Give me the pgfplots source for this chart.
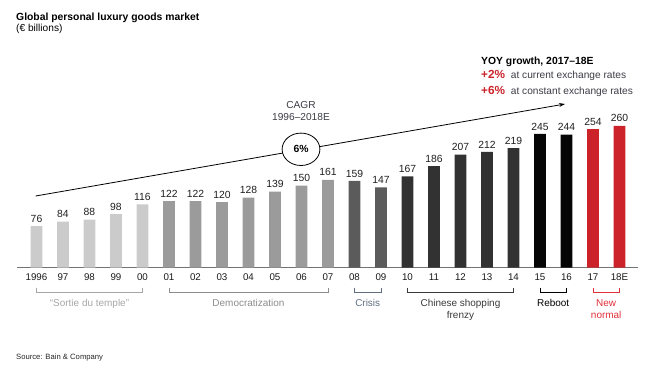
\documentclass[border=0pt]{standalone}
\usepackage{pgfplots}
\pgfplotsset{compat=1.18}
\usepackage{fontspec}
\setmainfont{Liberation Sans}
\usetikzlibrary{arrows.meta}
\definecolor{cA}{HTML}{CBCBCB}
\definecolor{cB}{HTML}{9B9B9B}
\definecolor{cC}{HTML}{5B5B5B}
\definecolor{cD}{HTML}{323232}
\definecolor{cE}{HTML}{050505}
\definecolor{cF}{HTML}{CC2229}
\definecolor{tA}{HTML}{A6A6A6}
\definecolor{tB}{HTML}{8C8C8C}
\definecolor{tC}{HTML}{5F6F80}
\definecolor{tD}{HTML}{3A3A3A}
\definecolor{tE}{HTML}{000000}
\definecolor{tF}{HTML}{E0303A}
\definecolor{txt}{HTML}{3C3C46}
\begin{document}
\begin{tikzpicture}
\path[use as bounding box] (0bp,0bp) rectangle (650bp,374bp);
\begin{axis}[
  at={(17bp,106.5bp)}, anchor=south west,
  scale only axis, width=621bp, height=163.5bp,
  xmin=-0.736, xmax=22.7, ymin=0, ymax=300,
  enlargelimits=false, clip=false,
  axis x line*=bottom, axis y line=none,
  x axis line style={draw=black!55, line width=1.3bp},
  /pgf/number format/assume math mode=true,
  xtick={0,...,22},
  xticklabels={1996,97,98,99,00,01,02,03,04,05,06,07,08,09,10,11,12,13,14,15,16,17,18E},
  major tick length=0pt,
  xticklabel style={font=\fontsize{9.8}{11}\selectfont, text=black!90, inner sep=0pt, anchor=base, yshift=-13.2bp},
  ytick=\empty,
  ybar, bar width=11.8bp,
  nodes near coords,
  nodes near coords style={font=\fontsize{10.4}{12}\selectfont, text=black!88, inner sep=0pt, anchor=south, yshift=3.5bp},
]
\addplot[fill=cA, draw=none, bar shift=0pt] coordinates {(0,76) (1,84) (2,88) (3,98) (4,116)};
\addplot[fill=cB, draw=none, bar shift=0pt] coordinates {(5,122) (6,122) (7,120) (8,128) (9,139) (10,150) (11,161)};
\addplot[fill=cC, draw=none, bar shift=0pt] coordinates {(12,159) (13,147)};
\addplot[fill=cD, draw=none, bar shift=0pt] coordinates {(14,167) (15,186) (16,207) (17,212) (18,219)};
\addplot[fill=cE, draw=none, bar shift=0pt] coordinates {(19,245) (20,244)};
\addplot[fill=cF, draw=none, bar shift=0pt] coordinates {(21,254) (22,260)};
% brackets
\draw[tA, line width=0.7bp] ([yshift=-20bp]axis cs:0,0) -- ([yshift=-24.5bp]axis cs:0,0) -- ([yshift=-24.5bp]axis cs:4,0) -- ([yshift=-20bp]axis cs:4,0);
\draw[tB, line width=0.7bp] ([yshift=-20bp]axis cs:5,0) -- ([yshift=-24.5bp]axis cs:5,0) -- ([yshift=-24.5bp]axis cs:11,0) -- ([yshift=-20bp]axis cs:11,0);
\draw[tC, line width=0.7bp] ([yshift=-20bp]axis cs:12,0) -- ([yshift=-24.5bp]axis cs:12,0) -- ([yshift=-24.5bp]axis cs:13,0) -- ([yshift=-20bp]axis cs:13,0);
\draw[tD, line width=0.7bp] ([yshift=-20bp]axis cs:14,0) -- ([yshift=-24.5bp]axis cs:14,0) -- ([yshift=-24.5bp]axis cs:18,0) -- ([yshift=-20bp]axis cs:18,0);
\draw[tE, line width=0.7bp] ([yshift=-20bp]axis cs:19,0) -- ([yshift=-24.5bp]axis cs:19,0) -- ([yshift=-24.5bp]axis cs:20,0) -- ([yshift=-20bp]axis cs:20,0);
\draw[tF, line width=0.7bp] ([yshift=-20bp]axis cs:21,0) -- ([yshift=-24.5bp]axis cs:21,0) -- ([yshift=-24.5bp]axis cs:22,0) -- ([yshift=-20bp]axis cs:22,0);
% group labels
\node[anchor=base, text=tA, inner sep=0pt, font=\fontsize{10}{12}\selectfont] at ([yshift=-39bp]axis cs:2,0) {“Sortie du temple”};
\node[anchor=base, text=tB, inner sep=0pt, font=\fontsize{10}{12}\selectfont] at ([yshift=-39bp]axis cs:8,0) {Democratization};
\node[anchor=base, text=tC, inner sep=0pt, font=\fontsize{10}{12}\selectfont] at ([yshift=-39bp]axis cs:12.5,0) {Crisis};
\node[anchor=base, text=tD, inner sep=0pt, font=\fontsize{10}{12}\selectfont] at ([yshift=-39bp]axis cs:16,0) {Chinese shopping};
\node[anchor=base, text=tD, inner sep=0pt, font=\fontsize{10}{12}\selectfont] at ([yshift=-51bp]axis cs:16,0) {frenzy};
\node[anchor=base, text=tE, inner sep=0pt, font=\fontsize{10}{12}\selectfont] at ([yshift=-39bp]axis cs:19.5,0) {Reboot};
\node[anchor=base, text=tF, inner sep=0pt, font=\fontsize{10}{12}\selectfont] at ([yshift=-39bp]axis cs:21.5,0) {New};
\node[anchor=base, text=tF, inner sep=0pt, font=\fontsize{10}{12}\selectfont] at ([yshift=-51bp]axis cs:21.5,0) {normal};
\end{axis}
\begin{scope}[x=1bp,y=1bp]
% CAGR arrow and circle
\draw[-{Stealth[length=6bp,width=4bp]}, line width=0.8bp] (35.7,178) -- (565,270);
\draw[fill=white, line width=0.8bp] (301,224.7) ellipse [x radius=18.9, y radius=16.2];
\node[font=\bfseries\fontsize{10.4}{12}\selectfont, inner sep=0pt] at (301,224.7) {6\%};
\node[anchor=base, inner sep=0pt, text=txt, font=\fontsize{10.2}{12}\selectfont] at (301,265.7) {CAGR};
\node[anchor=base, inner sep=0pt, text=txt, font=\fontsize{10.2}{12}\selectfont] at (301,253.3) {1996–2018E};
% titles
\node[anchor=base west, inner sep=0pt, font=\bfseries\fontsize{10.4}{12}\selectfont] at (16,354) {Global personal luxury goods market};
\node[anchor=base west, inner sep=0pt, font=\fontsize{10.2}{12}\selectfont] at (16,343) {(€ billions)};
% YOY box
\node[anchor=base west, inner sep=0pt, font=\bfseries\fontsize{10.4}{12}\selectfont] at (481,310) {YOY growth, 2017–18E};
\node[anchor=base west, inner sep=0pt, text=cF, font=\bfseries\fontsize{11.8}{13}\selectfont] at (481,295.7) {+2\%};
\node[anchor=base west, inner sep=0pt, text=txt, font=\fontsize{10.2}{12}\selectfont] at (510.7,295.7) {at current exchange rates};
\node[anchor=base west, inner sep=0pt, text=cF, font=\bfseries\fontsize{11.8}{13}\selectfont] at (481,280) {+6\%};
\node[anchor=base west, inner sep=0pt, text=txt, font=\fontsize{10.2}{12}\selectfont] at (510.7,280) {at constant exchange rates};
% source
\node[anchor=base west, inner sep=0pt, text=black!85, font=\fontsize{7.7}{9}\selectfont] at (16,14.7) {Source: Bain \& Company};
\end{scope}
\end{tikzpicture}
\end{document}
